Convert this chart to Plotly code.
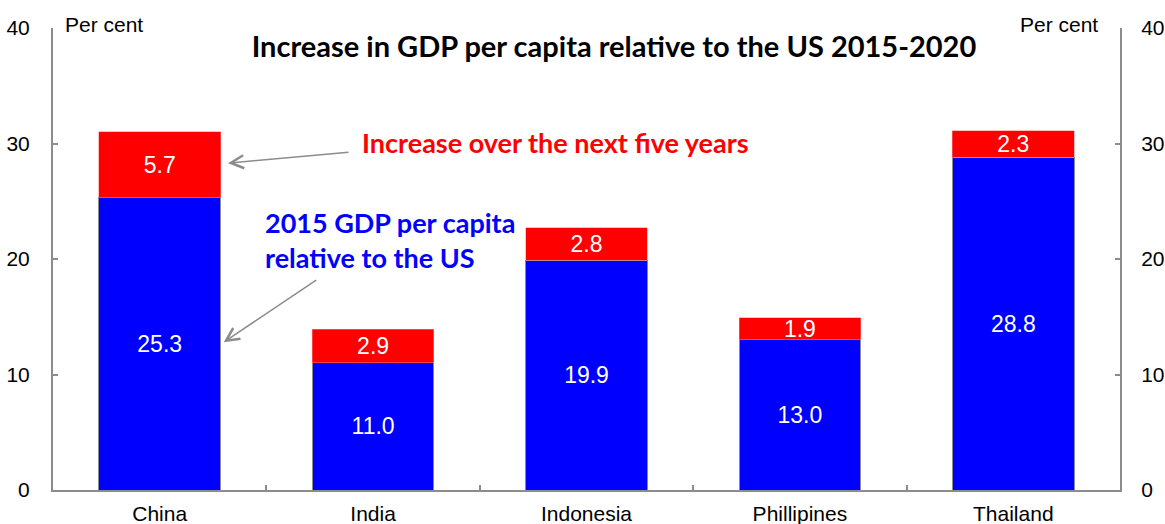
import plotly.graph_objects as go

countries = ["China", "India", "Indonesia", "Phillipines", "Thailand"]
gdp_2015 = [25.3, 11.0, 19.9, 13.0, 28.8]
increase = [5.7, 2.9, 2.8, 1.9, 2.3]
y_ticks = [0, 10, 20, 30, 40]

W, H = 1165, 524
ML, MR, MT, MB = 53, 45, 28, 34

fig = go.Figure()
fig.add_trace(go.Bar(
    x=countries, y=gdp_2015, name="2015",
    marker=dict(color="#0000FF", line=dict(color="#8c8c8c", width=1)),
    text=[f"{v:.1f}" for v in gdp_2015], textposition="inside",
    insidetextanchor="middle",
    textfont=dict(family="Liberation Sans, Arial", size=23, color="white"),
    width=0.57, cliponaxis=False,
))
fig.add_trace(go.Bar(
    x=countries, y=increase, name="Increase",
    marker=dict(color="#FF0000", line=dict(color="#ff8080", width=0.5)),
    text=[f"{v:.1f}" for v in increase], textposition="inside",
    insidetextanchor="middle",
    textfont=dict(family="Liberation Sans, Arial", size=23, color="white"),
    width=0.57, cliponaxis=False,
))
# invisible trace to activate the right axis
fig.add_trace(go.Scatter(x=countries, y=gdp_2015, yaxis="y2", mode="markers",
                         marker=dict(opacity=0), showlegend=False, hoverinfo="skip"))

axis_font = dict(family="Liberation Sans, Arial", size=21, color="black")
fig.update_layout(
    width=W, height=H, barmode="stack", bargap=0.43,
    margin=dict(l=ML, r=MR, t=MT, b=MB, autoexpand=False),
    plot_bgcolor="white", paper_bgcolor="white", showlegend=False,
    uniformtext=dict(minsize=22, mode="show"),
    title=dict(text="<b>Increase in GDP per capita relative to the US 2015-2020</b>",
               x=614 / W, xanchor="center", y=1 - 47 / H, yanchor="middle",
               xref="container", yref="container",
               font=dict(family="Lato, Open Sans", size=29, color="black")),
    xaxis=dict(type="category", range=[-0.5, 4.5], showline=True, linecolor="#8c8c8c",
               linewidth=2, ticks="inside", tickson="boundaries", ticklen=5,
               tickcolor="#8c8c8c", tickwidth=2, tickfont=axis_font, showgrid=False,
               automargin=False, ticklabelstandoff=4),
    yaxis=dict(range=[0, 40], tickvals=y_ticks, showline=True, linecolor="#8c8c8c",
               linewidth=2, ticks="inside", ticklen=5, tickcolor="#8c8c8c",
               tickwidth=2, tickfont=axis_font, showgrid=False, zeroline=False,
               automargin=False, ticklabelstandoff=17),
    yaxis2=dict(range=[0, 40], tickvals=y_ticks, overlaying="y", side="right",
                showline=True, linecolor="#8c8c8c", linewidth=2, ticks="inside",
                ticklen=5, tickcolor="#8c8c8c", tickwidth=2, tickfont=axis_font,
                showgrid=False, zeroline=False, automargin=False,
                ticklabelstandoff=15),
)

ann_font_red = dict(family="Lato, Open Sans", size=27, color="#FF0000")
ann_font_blue = dict(family="Lato, Open Sans", size=27, color="#0000FF")

fig.add_annotation(text="Per cent", xref="paper", yref="paper", x=0, y=1,
                   xanchor="left", yanchor="middle", xshift=10, yshift=4,
                   showarrow=False, font=axis_font)
fig.add_annotation(text="Per cent", xref="paper", yref="paper", x=1, y=1,
                   xanchor="right", yanchor="middle", xshift=-20, yshift=4,
                   showarrow=False, font=axis_font)

fig.add_annotation(text="<b>Increase over the next five years</b>", xref="paper", yref="paper",
                   x=(360 - ML) / (W - ML - MR), y=(H - MB - 142) / (H - MT - MB),
                   xanchor="left", yanchor="middle", showarrow=False, font=ann_font_red)
fig.add_annotation(text="<b>2015 GDP per capita<br>relative to the US</b>", xref="paper",
                   yref="paper", x=(263 - ML) / (W - ML - MR),
                   y=(H - MB - 240) / (H - MT - MB), xanchor="left", yanchor="middle",
                   align="left", showarrow=False, font=ann_font_blue)

fig.add_annotation(x=0.32, y=28.3, xref="x", yref="y", ax=122, ay=-11, text="",
                   showarrow=True, arrowhead=5, arrowsize=1.7, arrowwidth=1.5,
                   arrowcolor="#8c8c8c")
fig.add_annotation(x=0.30, y=12.8, xref="x", yref="y", ax=94, ay=-63, text="",
                   showarrow=True, arrowhead=5, arrowsize=1.7, arrowwidth=1.5,
                   arrowcolor="#8c8c8c")

fig.write_html("out.html")
